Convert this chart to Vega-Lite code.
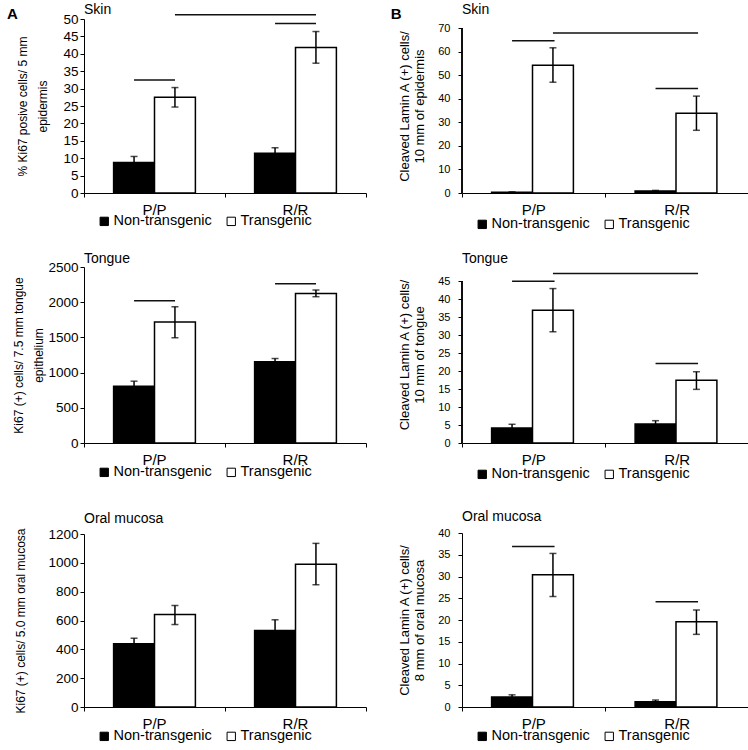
{
  "$schema": "https://vega.github.io/schema/vega-lite/v6.json",
  "padding": {"left": 6, "top": 3, "right": 0, "bottom": 0},
  "background": "white",
  "config": {
    "font": "Liberation Sans",
    "view": {"stroke": null},
    "axis": {"grid": false, "domainColor": "#000", "tickColor": "#000", "labelColor": "#000", "titleColor": "#000", "titleFontWeight": "normal", "domainWidth": 1, "tickWidth": 1, "tickSize": 4},
    "axisX": {"labelAngle": 0, "labelFontSize": 15, "bandPosition": 1, "tickExtra": true, "labelPadding": 5, "title": null},
    "title": {"fontSize": 14, "fontWeight": "normal", "anchor": "start", "frame": "group", "color": "#000"},
    "legend": {"orient": "none", "direction": "horizontal", "title": null, "symbolType": "square", "symbolSize": 70, "symbolStrokeColor": "#000", "symbolStrokeWidth": 1, "labelFontSize": 14.5, "labelColor": "#000", "columnPadding": 12, "labelOffset": 2, "legendX": 13}
  },
  "resolve": {"scale": {"fill": "independent"}, "legend": {"fill": "independent"}},
  "columns": 2,
  "align": "none",
  "spacing": 23,
  "concat": [
    {
      "title": {"text": "A", "anchor": "start", "frame": "bounds", "fontSize": 15, "fontWeight": "bold", "offset": -19, "dx": -6},
      "resolve": {"scale": {"fill": "independent"}, "legend": {"fill": "independent"}},
      "spacing": 32,
      "vconcat": [
        {
          "resolve": {"scale": {"fill": "independent"}, "legend": {"fill": "independent"}},
          "spacing": 23,
          "vconcat": [
            {
              "width": 282, "height": 174,
              "title": {"text": "Skin", "offset": -5},
              "data": {"values": [
                {"genotype": "P/P", "group": "Non-transgenic", "mean": 8.8, "lo": 7.1, "hi": 10.5},
                {"genotype": "P/P", "group": "Transgenic", "mean": 27.5, "lo": 24.7, "hi": 30.3},
                {"genotype": "R/R", "group": "Non-transgenic", "mean": 11.4, "lo": 9.8, "hi": 13.0},
                {"genotype": "R/R", "group": "Transgenic", "mean": 41.8, "lo": 37.3, "hi": 46.4}
              ]},
              "layer": [
                {"mark": {"type": "bar", "stroke": "#000", "strokeWidth": 1.5},
                 "encoding": {
                   "x": {"field": "genotype", "type": "nominal", "scale": {"paddingInner": 0, "paddingOuter": 0}},
                   "xOffset": {"field": "group", "type": "nominal", "scale": {"domain": ["Non-transgenic", "Transgenic"], "paddingInner": 0, "paddingOuter": 0.724}},
                   "y": {"field": "mean", "type": "quantitative", "scale": {"domain": [0, 50], "nice": false}, "title": ["% Ki67 posive cells/ 5 mm", "epidermis"], "axis": {"values": [0,5,10,15,20,25,30,35,40,45,50], "labelFontSize": 13.5, "titleFontSize": 12, "titleLineHeight": 20, "labelPadding": 2, "titlePadding": 13}},
                   "fill": {"field": "group", "type": "nominal", "scale": {"domain": ["Non-transgenic", "Transgenic"], "range": ["#000", "#fff"]}, "legend": {"legendY": 195}}
                 }},
                {"mark": {"type": "rule", "strokeWidth": 1.5, "color": "#000"},
                 "encoding": {"x": {"field": "genotype", "type": "nominal"}, "xOffset": {"field": "group", "type": "nominal"},
                   "y": {"field": "lo", "type": "quantitative", "scale": {"domain": [0, 50], "nice": false}, "title": ["% Ki67 posive cells/ 5 mm", "epidermis"], "axis": {"values": [0,5,10,15,20,25,30,35,40,45,50], "labelFontSize": 13.5, "titleFontSize": 12, "titleLineHeight": 20, "labelPadding": 2, "titlePadding": 13}},
                   "y2": {"field": "hi"}}},
                {"mark": {"type": "tick", "size": 7, "thickness": 1.5, "color": "#000", "orient": "horizontal"},
                 "encoding": {"x": {"field": "genotype", "type": "nominal"}, "xOffset": {"field": "group", "type": "nominal"},
                   "y": {"field": "hi", "type": "quantitative", "scale": {"domain": [0, 50], "nice": false}, "title": ["% Ki67 posive cells/ 5 mm", "epidermis"], "axis": {"values": [0,5,10,15,20,25,30,35,40,45,50], "labelFontSize": 13.5, "titleFontSize": 12, "titleLineHeight": 20, "labelPadding": 2, "titlePadding": 13}}}},
                {"mark": {"type": "tick", "size": 7, "thickness": 1.5, "color": "#000", "orient": "horizontal"},
                 "encoding": {"x": {"field": "genotype", "type": "nominal"}, "xOffset": {"field": "group", "type": "nominal"},
                   "y": {"field": "lo", "type": "quantitative", "scale": {"domain": [0, 50], "nice": false}, "title": ["% Ki67 posive cells/ 5 mm", "epidermis"], "axis": {"values": [0,5,10,15,20,25,30,35,40,45,50], "labelFontSize": 13.5, "titleFontSize": 12, "titleLineHeight": 20, "labelPadding": 2, "titlePadding": 13}}}},
                {"data": {"values": [
                  {"from": "P/P", "fromGroup": "Non-transgenic", "to": "P/P", "level": 32.5},
                  {"from": "R/R", "fromGroup": "Non-transgenic", "to": "R/R", "level": 48.7},
                  {"from": "P/P", "fromGroup": "Transgenic", "to": "R/R", "level": 51.2}
                 ]},
                 "mark": {"type": "rule", "strokeWidth": 1.5, "color": "#111", "x2Offset": 20.5},
                 "encoding": {"x": {"field": "from", "type": "nominal"}, "xOffset": {"field": "fromGroup", "type": "nominal"}, "x2": {"field": "to"},
                   "y": {"field": "level", "type": "quantitative", "scale": {"domain": [0, 50], "nice": false}, "title": ["% Ki67 posive cells/ 5 mm", "epidermis"], "axis": {"values": [0,5,10,15,20,25,30,35,40,45,50], "labelFontSize": 13.5, "titleFontSize": 12, "titleLineHeight": 20, "labelPadding": 2, "titlePadding": 13}}}}
              ]
            },
            {
              "width": 282, "height": 176,
              "title": {"text": "Tongue", "offset": -5.5},
              "data": {"values": [
                {"genotype": "P/P", "group": "Non-transgenic", "mean": 806, "lo": 734, "hi": 878},
                {"genotype": "P/P", "group": "Transgenic", "mean": 1717, "lo": 1495, "hi": 1935},
                {"genotype": "R/R", "group": "Non-transgenic", "mean": 1153, "lo": 1106, "hi": 1200},
                {"genotype": "R/R", "group": "Transgenic", "mean": 2125, "lo": 2078, "hi": 2173}
              ]},
              "layer": [
                {"mark": {"type": "bar", "stroke": "#000", "strokeWidth": 1.5},
                 "encoding": {
                   "x": {"field": "genotype", "type": "nominal", "scale": {"paddingInner": 0, "paddingOuter": 0}},
                   "xOffset": {"field": "group", "type": "nominal", "scale": {"domain": ["Non-transgenic", "Transgenic"], "paddingInner": 0, "paddingOuter": 0.724}},
                   "y": {"field": "mean", "type": "quantitative", "scale": {"domain": [0, 2500], "nice": false}, "title": ["Ki67 (+) cells/ 7.5 mm tongue", "epithelium"], "axis": {"values": [0,500,1000,1500,2000,2500], "format": "d", "labelFontSize": 13.5, "titleFontSize": 12, "titleLineHeight": 20, "labelPadding": 2, "titlePadding": 2}},
                   "fill": {"field": "group", "type": "nominal", "scale": {"domain": ["Non-transgenic", "Transgenic"], "range": ["#000", "#fff"]}, "legend": {"legendY": 198}}
                 }},
                {"mark": {"type": "rule", "strokeWidth": 1.5, "color": "#000"},
                 "encoding": {"x": {"field": "genotype", "type": "nominal"}, "xOffset": {"field": "group", "type": "nominal"},
                   "y": {"field": "lo", "type": "quantitative", "scale": {"domain": [0, 2500], "nice": false}, "title": ["Ki67 (+) cells/ 7.5 mm tongue", "epithelium"], "axis": {"values": [0,500,1000,1500,2000,2500], "format": "d", "labelFontSize": 13.5, "titleFontSize": 12, "titleLineHeight": 20, "labelPadding": 2, "titlePadding": 2}},
                   "y2": {"field": "hi"}}},
                {"mark": {"type": "tick", "size": 7, "thickness": 1.5, "color": "#000", "orient": "horizontal"},
                 "encoding": {"x": {"field": "genotype", "type": "nominal"}, "xOffset": {"field": "group", "type": "nominal"},
                   "y": {"field": "hi", "type": "quantitative", "scale": {"domain": [0, 2500], "nice": false}, "title": ["Ki67 (+) cells/ 7.5 mm tongue", "epithelium"], "axis": {"values": [0,500,1000,1500,2000,2500], "format": "d", "labelFontSize": 13.5, "titleFontSize": 12, "titleLineHeight": 20, "labelPadding": 2, "titlePadding": 2}}}},
                {"mark": {"type": "tick", "size": 7, "thickness": 1.5, "color": "#000", "orient": "horizontal"},
                 "encoding": {"x": {"field": "genotype", "type": "nominal"}, "xOffset": {"field": "group", "type": "nominal"},
                   "y": {"field": "lo", "type": "quantitative", "scale": {"domain": [0, 2500], "nice": false}, "title": ["Ki67 (+) cells/ 7.5 mm tongue", "epithelium"], "axis": {"values": [0,500,1000,1500,2000,2500], "format": "d", "labelFontSize": 13.5, "titleFontSize": 12, "titleLineHeight": 20, "labelPadding": 2, "titlePadding": 2}}}},
                {"data": {"values": [
                  {"from": "P/P", "fromGroup": "Non-transgenic", "to": "P/P", "level": 2021},
                  {"from": "R/R", "fromGroup": "Non-transgenic", "to": "R/R", "level": 2263}
                 ]},
                 "mark": {"type": "rule", "strokeWidth": 1.5, "color": "#111", "x2Offset": 20.5},
                 "encoding": {"x": {"field": "from", "type": "nominal"}, "xOffset": {"field": "fromGroup", "type": "nominal"}, "x2": {"field": "to"},
                   "y": {"field": "level", "type": "quantitative", "scale": {"domain": [0, 2500], "nice": false}, "title": ["Ki67 (+) cells/ 7.5 mm tongue", "epithelium"], "axis": {"values": [0,500,1000,1500,2000,2500], "format": "d", "labelFontSize": 13.5, "titleFontSize": 12, "titleLineHeight": 20, "labelPadding": 2, "titlePadding": 2}}}}
              ]
            }
          ]
        },
        {
          "width": 282, "height": 173,
          "title": {"text": "Oral mucosa", "offset": 1.5},
          "data": {"values": [
            {"genotype": "P/P", "group": "Non-transgenic", "mean": 438, "lo": 399, "hi": 477},
            {"genotype": "P/P", "group": "Transgenic", "mean": 642, "lo": 572, "hi": 704},
            {"genotype": "R/R", "group": "Non-transgenic", "mean": 530, "lo": 455, "hi": 605},
            {"genotype": "R/R", "group": "Transgenic", "mean": 991, "lo": 848, "hi": 1135}
          ]},
          "layer": [
            {"mark": {"type": "bar", "stroke": "#000", "strokeWidth": 1.5},
             "encoding": {
               "x": {"field": "genotype", "type": "nominal", "scale": {"paddingInner": 0, "paddingOuter": 0}},
               "xOffset": {"field": "group", "type": "nominal", "scale": {"domain": ["Non-transgenic", "Transgenic"], "paddingInner": 0, "paddingOuter": 0.724}},
               "y": {"field": "mean", "type": "quantitative", "scale": {"domain": [0, 1200], "nice": false}, "title": "Ki67 (+) cells/ 5.0 mm oral mucosa", "axis": {"values": [0,200,400,600,800,1000,1200], "format": "d", "labelFontSize": 13.5, "titleFontSize": 12, "labelPadding": 2, "titlePadding": 20}},
               "fill": {"field": "group", "type": "nominal", "scale": {"domain": ["Non-transgenic", "Transgenic"], "range": ["#000", "#fff"]}, "legend": {"legendY": 195}}
             }},
            {"mark": {"type": "rule", "strokeWidth": 1.5, "color": "#000"},
             "encoding": {"x": {"field": "genotype", "type": "nominal"}, "xOffset": {"field": "group", "type": "nominal"},
               "y": {"field": "lo", "type": "quantitative", "scale": {"domain": [0, 1200], "nice": false}, "title": "Ki67 (+) cells/ 5.0 mm oral mucosa", "axis": {"values": [0,200,400,600,800,1000,1200], "format": "d", "labelFontSize": 13.5, "titleFontSize": 12, "labelPadding": 2, "titlePadding": 20}},
               "y2": {"field": "hi"}}},
            {"mark": {"type": "tick", "size": 7, "thickness": 1.5, "color": "#000", "orient": "horizontal"},
             "encoding": {"x": {"field": "genotype", "type": "nominal"}, "xOffset": {"field": "group", "type": "nominal"},
               "y": {"field": "hi", "type": "quantitative", "scale": {"domain": [0, 1200], "nice": false}, "title": "Ki67 (+) cells/ 5.0 mm oral mucosa", "axis": {"values": [0,200,400,600,800,1000,1200], "format": "d", "labelFontSize": 13.5, "titleFontSize": 12, "labelPadding": 2, "titlePadding": 20}}}},
            {"mark": {"type": "tick", "size": 7, "thickness": 1.5, "color": "#000", "orient": "horizontal"},
             "encoding": {"x": {"field": "genotype", "type": "nominal"}, "xOffset": {"field": "group", "type": "nominal"},
               "y": {"field": "lo", "type": "quantitative", "scale": {"domain": [0, 1200], "nice": false}, "title": "Ki67 (+) cells/ 5.0 mm oral mucosa", "axis": {"values": [0,200,400,600,800,1000,1200], "format": "d", "labelFontSize": 13.5, "titleFontSize": 12, "labelPadding": 2, "titlePadding": 20}}}}
          ]
        }
      ]
    },
    {
      "title": {"text": "B", "anchor": "start", "frame": "bounds", "fontSize": 15, "fontWeight": "bold", "offset": -19, "dx": -8},
      "resolve": {"scale": {"fill": "independent"}, "legend": {"fill": "independent"}},
      "spacing": 29,
      "vconcat": [
        {
          "resolve": {"scale": {"fill": "independent"}, "legend": {"fill": "independent"}},
          "spacing": 21,
          "vconcat": [
            {
              "width": 287, "height": 174,
              "title": {"text": "Skin", "offset": 2},
              "data": {"values": [
                {"genotype": "P/P", "group": "Non-transgenic", "mean": 0.3, "lo": 0.1, "hi": 0.5},
                {"genotype": "P/P", "group": "Transgenic", "mean": 54.2, "lo": 47.0, "hi": 61.6},
                {"genotype": "R/R", "group": "Non-transgenic", "mean": 0.8, "lo": 0.5, "hi": 1.1},
                {"genotype": "R/R", "group": "Transgenic", "mean": 33.8, "lo": 26.6, "hi": 41.1}
              ]},
              "layer": [
                {"mark": {"type": "bar", "stroke": "#000", "strokeWidth": 1.5},
                 "encoding": {
                   "x": {"field": "genotype", "type": "nominal", "scale": {"paddingInner": 0, "paddingOuter": 0}},
                   "xOffset": {"field": "group", "type": "nominal", "scale": {"domain": ["Non-transgenic", "Transgenic"], "paddingInner": 0, "paddingOuter": 0.724}},
                   "y": {"field": "mean", "type": "quantitative", "scale": {"domain": [0, 73.82], "nice": false}, "title": ["Cleaved Lamin A (+) cells/", "10 mm of epidermis"], "axis": {"values": [0,10,20,30,40,50,60,70], "domain": false, "labelFontSize": 11, "titleFontSize": 13, "labelPadding": 8, "titlePadding": 11}},
                   "fill": {"field": "group", "type": "nominal", "scale": {"domain": ["Non-transgenic", "Transgenic"], "range": ["#000", "#fff"]}, "legend": {"legendY": 198}}
                 }},
                {"mark": {"type": "rule", "strokeWidth": 1, "color": "#000"},
                 "encoding": {"x": {"datum": "P/P", "type": "nominal", "bandPosition": 0},
                   "y": {"datum": 0, "type": "quantitative", "scale": {"domain": [0, 73.82], "nice": false}, "title": ["Cleaved Lamin A (+) cells/", "10 mm of epidermis"], "axis": {"values": [0,10,20,30,40,50,60,70], "domain": false, "labelFontSize": 11, "titleFontSize": 13, "labelPadding": 8, "titlePadding": 11}},
                   "y2": {"datum": 70}}},
                {"mark": {"type": "rule", "strokeWidth": 1.5, "color": "#000"},
                 "encoding": {"x": {"field": "genotype", "type": "nominal"}, "xOffset": {"field": "group", "type": "nominal"},
                   "y": {"field": "lo", "type": "quantitative", "scale": {"domain": [0, 73.82], "nice": false}, "title": ["Cleaved Lamin A (+) cells/", "10 mm of epidermis"], "axis": {"values": [0,10,20,30,40,50,60,70], "domain": false, "labelFontSize": 11, "titleFontSize": 13, "labelPadding": 8, "titlePadding": 11}},
                   "y2": {"field": "hi"}}},
                {"mark": {"type": "tick", "size": 7, "thickness": 1.5, "color": "#000", "orient": "horizontal"},
                 "encoding": {"x": {"field": "genotype", "type": "nominal"}, "xOffset": {"field": "group", "type": "nominal"},
                   "y": {"field": "hi", "type": "quantitative", "scale": {"domain": [0, 73.82], "nice": false}, "title": ["Cleaved Lamin A (+) cells/", "10 mm of epidermis"], "axis": {"values": [0,10,20,30,40,50,60,70], "domain": false, "labelFontSize": 11, "titleFontSize": 13, "labelPadding": 8, "titlePadding": 11}}}},
                {"mark": {"type": "tick", "size": 7, "thickness": 1.5, "color": "#000", "orient": "horizontal"},
                 "encoding": {"x": {"field": "genotype", "type": "nominal"}, "xOffset": {"field": "group", "type": "nominal"},
                   "y": {"field": "lo", "type": "quantitative", "scale": {"domain": [0, 73.82], "nice": false}, "title": ["Cleaved Lamin A (+) cells/", "10 mm of epidermis"], "axis": {"values": [0,10,20,30,40,50,60,70], "domain": false, "labelFontSize": 11, "titleFontSize": 13, "labelPadding": 8, "titlePadding": 11}}}},
                {"data": {"values": [
                  {"from": "P/P", "fromGroup": "Non-transgenic", "to": "P/P", "level": 64.6},
                  {"from": "P/P", "fromGroup": "Transgenic", "to": "R/R", "level": 67.9},
                  {"from": "R/R", "fromGroup": "Non-transgenic", "to": "R/R", "level": 44.3}
                 ]},
                 "mark": {"type": "rule", "strokeWidth": 1.5, "color": "#111", "x2Offset": 20.8},
                 "encoding": {"x": {"field": "from", "type": "nominal"}, "xOffset": {"field": "fromGroup", "type": "nominal"}, "x2": {"field": "to"},
                   "y": {"field": "level", "type": "quantitative", "scale": {"domain": [0, 73.82], "nice": false}, "title": ["Cleaved Lamin A (+) cells/", "10 mm of epidermis"], "axis": {"values": [0,10,20,30,40,50,60,70], "domain": false, "labelFontSize": 11, "titleFontSize": 13, "labelPadding": 8, "titlePadding": 11}}}}
              ]
            },
            {
              "width": 287, "height": 177,
              "title": {"text": "Tongue", "offset": 0},
              "data": {"values": [
                {"genotype": "P/P", "group": "Non-transgenic", "mean": 4.2, "lo": 3.2, "hi": 5.2},
                {"genotype": "P/P", "group": "Transgenic", "mean": 36.9, "lo": 30.9, "hi": 42.9},
                {"genotype": "R/R", "group": "Non-transgenic", "mean": 5.3, "lo": 4.4, "hi": 6.2},
                {"genotype": "R/R", "group": "Transgenic", "mean": 17.4, "lo": 14.9, "hi": 19.8}
              ]},
              "layer": [
                {"mark": {"type": "bar", "stroke": "#000", "strokeWidth": 1.5},
                 "encoding": {
                   "x": {"field": "genotype", "type": "nominal", "scale": {"paddingInner": 0, "paddingOuter": 0}},
                   "xOffset": {"field": "group", "type": "nominal", "scale": {"domain": ["Non-transgenic", "Transgenic"], "paddingInner": 0, "paddingOuter": 0.724}},
                   "y": {"field": "mean", "type": "quantitative", "scale": {"domain": [0, 49.17], "nice": false}, "title": ["Cleaved Lamin A (+) cells/", "10 mm of tongue"], "axis": {"values": [0,5,10,15,20,25,30,35,40,45], "domain": false, "labelFontSize": 11, "titleFontSize": 13, "labelPadding": 8, "titlePadding": 11}},
                   "fill": {"field": "group", "type": "nominal", "scale": {"domain": ["Non-transgenic", "Transgenic"], "range": ["#000", "#fff"]}, "legend": {"legendY": 201}}
                 }},
                {"mark": {"type": "rule", "strokeWidth": 1, "color": "#000"},
                 "encoding": {"x": {"datum": "P/P", "type": "nominal", "bandPosition": 0},
                   "y": {"datum": 0, "type": "quantitative", "scale": {"domain": [0, 49.17], "nice": false}, "title": ["Cleaved Lamin A (+) cells/", "10 mm of tongue"], "axis": {"values": [0,5,10,15,20,25,30,35,40,45], "domain": false, "labelFontSize": 11, "titleFontSize": 13, "labelPadding": 8, "titlePadding": 11}},
                   "y2": {"datum": 45}}},
                {"mark": {"type": "rule", "strokeWidth": 1.5, "color": "#000"},
                 "encoding": {"x": {"field": "genotype", "type": "nominal"}, "xOffset": {"field": "group", "type": "nominal"},
                   "y": {"field": "lo", "type": "quantitative", "scale": {"domain": [0, 49.17], "nice": false}, "title": ["Cleaved Lamin A (+) cells/", "10 mm of tongue"], "axis": {"values": [0,5,10,15,20,25,30,35,40,45], "domain": false, "labelFontSize": 11, "titleFontSize": 13, "labelPadding": 8, "titlePadding": 11}},
                   "y2": {"field": "hi"}}},
                {"mark": {"type": "tick", "size": 7, "thickness": 1.5, "color": "#000", "orient": "horizontal"},
                 "encoding": {"x": {"field": "genotype", "type": "nominal"}, "xOffset": {"field": "group", "type": "nominal"},
                   "y": {"field": "hi", "type": "quantitative", "scale": {"domain": [0, 49.17], "nice": false}, "title": ["Cleaved Lamin A (+) cells/", "10 mm of tongue"], "axis": {"values": [0,5,10,15,20,25,30,35,40,45], "domain": false, "labelFontSize": 11, "titleFontSize": 13, "labelPadding": 8, "titlePadding": 11}}}},
                {"mark": {"type": "tick", "size": 7, "thickness": 1.5, "color": "#000", "orient": "horizontal"},
                 "encoding": {"x": {"field": "genotype", "type": "nominal"}, "xOffset": {"field": "group", "type": "nominal"},
                   "y": {"field": "lo", "type": "quantitative", "scale": {"domain": [0, 49.17], "nice": false}, "title": ["Cleaved Lamin A (+) cells/", "10 mm of tongue"], "axis": {"values": [0,5,10,15,20,25,30,35,40,45], "domain": false, "labelFontSize": 11, "titleFontSize": 13, "labelPadding": 8, "titlePadding": 11}}}},
                {"data": {"values": [
                  {"from": "P/P", "fromGroup": "Non-transgenic", "to": "P/P", "level": 44.9},
                  {"from": "P/P", "fromGroup": "Transgenic", "to": "R/R", "level": 47.1},
                  {"from": "R/R", "fromGroup": "Non-transgenic", "to": "R/R", "level": 22.1}
                 ]},
                 "mark": {"type": "rule", "strokeWidth": 1.5, "color": "#111", "x2Offset": 20.8},
                 "encoding": {"x": {"field": "from", "type": "nominal"}, "xOffset": {"field": "fromGroup", "type": "nominal"}, "x2": {"field": "to"},
                   "y": {"field": "level", "type": "quantitative", "scale": {"domain": [0, 49.17], "nice": false}, "title": ["Cleaved Lamin A (+) cells/", "10 mm of tongue"], "axis": {"values": [0,5,10,15,20,25,30,35,40,45], "domain": false, "labelFontSize": 11, "titleFontSize": 13, "labelPadding": 8, "titlePadding": 11}}}}
              ]
            }
          ]
        },
        {
          "width": 287, "height": 174,
          "title": {"text": "Oral mucosa", "offset": 3},
          "data": {"values": [
            {"genotype": "P/P", "group": "Non-transgenic", "mean": 2.3, "lo": 1.8, "hi": 2.8},
            {"genotype": "P/P", "group": "Transgenic", "mean": 30.4, "lo": 25.4, "hi": 35.3},
            {"genotype": "R/R", "group": "Non-transgenic", "mean": 1.2, "lo": 0.8, "hi": 1.6},
            {"genotype": "R/R", "group": "Transgenic", "mean": 19.6, "lo": 16.7, "hi": 22.3}
          ]},
          "layer": [
            {"mark": {"type": "bar", "stroke": "#000", "strokeWidth": 1.5},
             "encoding": {
               "x": {"field": "genotype", "type": "nominal", "scale": {"paddingInner": 0, "paddingOuter": 0}},
               "xOffset": {"field": "group", "type": "nominal", "scale": {"domain": ["Non-transgenic", "Transgenic"], "paddingInner": 0, "paddingOuter": 0.724}},
               "y": {"field": "mean", "type": "quantitative", "scale": {"domain": [0, 40], "nice": false}, "title": ["Cleaved Lamin A (+) cells/", "8 mm of oral mucosa"], "axis": {"values": [0,5,10,15,20,25,30,35,40], "labelFontSize": 11, "titleFontSize": 13, "labelPadding": 8, "titlePadding": 11}},
               "fill": {"field": "group", "type": "nominal", "scale": {"domain": ["Non-transgenic", "Transgenic"], "range": ["#000", "#fff"]}, "legend": {"legendY": 196}}
             }},
            {"mark": {"type": "rule", "strokeWidth": 1.5, "color": "#000"},
             "encoding": {"x": {"field": "genotype", "type": "nominal"}, "xOffset": {"field": "group", "type": "nominal"},
               "y": {"field": "lo", "type": "quantitative", "scale": {"domain": [0, 40], "nice": false}, "title": ["Cleaved Lamin A (+) cells/", "8 mm of oral mucosa"], "axis": {"values": [0,5,10,15,20,25,30,35,40], "labelFontSize": 11, "titleFontSize": 13, "labelPadding": 8, "titlePadding": 11}},
               "y2": {"field": "hi"}}},
            {"mark": {"type": "tick", "size": 7, "thickness": 1.5, "color": "#000", "orient": "horizontal"},
             "encoding": {"x": {"field": "genotype", "type": "nominal"}, "xOffset": {"field": "group", "type": "nominal"},
               "y": {"field": "hi", "type": "quantitative", "scale": {"domain": [0, 40], "nice": false}, "title": ["Cleaved Lamin A (+) cells/", "8 mm of oral mucosa"], "axis": {"values": [0,5,10,15,20,25,30,35,40], "labelFontSize": 11, "titleFontSize": 13, "labelPadding": 8, "titlePadding": 11}}}},
            {"mark": {"type": "tick", "size": 7, "thickness": 1.5, "color": "#000", "orient": "horizontal"},
             "encoding": {"x": {"field": "genotype", "type": "nominal"}, "xOffset": {"field": "group", "type": "nominal"},
               "y": {"field": "lo", "type": "quantitative", "scale": {"domain": [0, 40], "nice": false}, "title": ["Cleaved Lamin A (+) cells/", "8 mm of oral mucosa"], "axis": {"values": [0,5,10,15,20,25,30,35,40], "labelFontSize": 11, "titleFontSize": 13, "labelPadding": 8, "titlePadding": 11}}}},
            {"data": {"values": [
              {"from": "P/P", "fromGroup": "Non-transgenic", "to": "P/P", "level": 36.9},
              {"from": "R/R", "fromGroup": "Non-transgenic", "to": "R/R", "level": 24.2}
             ]},
             "mark": {"type": "rule", "strokeWidth": 1.5, "color": "#111", "x2Offset": 20.8},
             "encoding": {"x": {"field": "from", "type": "nominal"}, "xOffset": {"field": "fromGroup", "type": "nominal"}, "x2": {"field": "to"},
               "y": {"field": "level", "type": "quantitative", "scale": {"domain": [0, 40], "nice": false}, "title": ["Cleaved Lamin A (+) cells/", "8 mm of oral mucosa"], "axis": {"values": [0,5,10,15,20,25,30,35,40], "labelFontSize": 11, "titleFontSize": 13, "labelPadding": 8, "titlePadding": 11}}}}
          ]
        }
      ]
    }
  ]
}
